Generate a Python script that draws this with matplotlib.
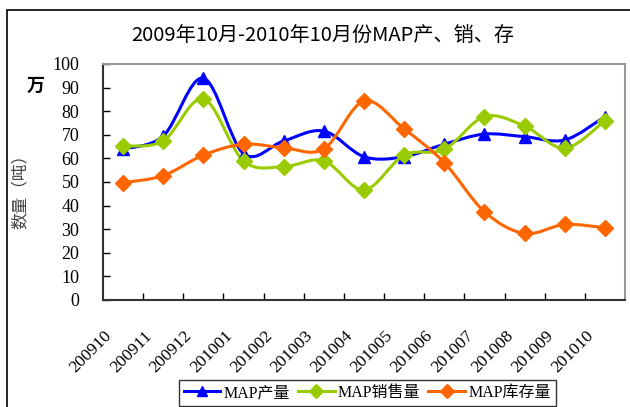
import matplotlib
matplotlib.use("Agg")
import matplotlib.pyplot as plt
from matplotlib.path import Path
from matplotlib.patches import PathPatch, Rectangle
from matplotlib.lines import Line2D
from matplotlib.transforms import ScaledTranslation

months = ["200910", "200911", "200912", "201001", "201002", "201003", "201004",
          "201005", "201006", "201007", "201008", "201009", "201010"]
production = [64, 69.5, 94, 62, 67.4, 71.6, 60.7, 60.7, 66, 70.3, 69.2, 67.8, 77.7]
sales = [65.3, 67.4, 85.2, 58.9, 56.5, 59, 46.6, 61.4, 63.8, 77.7, 73.7, 64.3, 76]
stock = [49.7, 52.7, 61.4, 66, 64.5, 64, 84.3, 72.5, 58.2, 37.4, 28.2, 32, 30.6]

serif = ["Liberation Serif", "Noto Sans CJK SC"]
cjk = ["Noto Sans CJK SC", "DejaVu Sans"]


def smooth_path(xs, ys):
    # excel-style smoothed line: cubic bezier through every point
    verts = [(xs[0], ys[0])]
    codes = [Path.MOVETO]
    n = len(xs)
    for i in range(n - 1):
        x0, y0 = (xs[i - 1], ys[i - 1]) if i > 0 else (xs[i], ys[i])
        x1, y1 = xs[i], ys[i]
        x2, y2 = xs[i + 1], ys[i + 1]
        x3, y3 = (xs[i + 2], ys[i + 2]) if i + 2 < n else (x2, y2)
        c1 = (x1 + (x2 - x0) / 6, y1 + (y2 - y0) / 6)
        c2 = (x2 - (x3 - x1) / 6, y2 - (y3 - y1) / 6)
        verts += [c1, c2, (x2, y2)]
        codes += [Path.CURVE4] * 3
    return Path(verts, codes)


fig = plt.figure(figsize=(6.3, 4.07), dpi=100)
ax = fig.add_axes([0.1635, 0.2629, 0.8285, 0.5799])

series = [
    ("MAP产量", production, "#0000FF", "^", 8),
    ("MAP销售量", sales, "#99CC00", "D", 8),
    ("MAP库存量", stock, "#FF6600", "D", 8),
]
x = list(range(len(months)))
handles = []
for name, vals, color, mk, ms in series:
    ax.add_patch(PathPatch(smooth_path(x, vals), facecolor="none",
                           edgecolor=color, lw=2.2, zorder=3))
    ax.plot(x, vals, ls="none", marker=mk, ms=ms, color=color, zorder=4)
    handles.append(Line2D([], [], color=color, lw=2.2, marker=mk, ms=ms - 1))

ax.set_xlim(-0.5, len(months) - 0.5)
ax.set_ylim(0, 100)
ax.set_yticks(range(0, 101, 10))
ax.set_xticks([i + 0.5 for i in range(len(months) - 1)], minor=False)
ax.set_xticklabels([])
ax.set_xticks(x, minor=True)
ax.set_xticklabels(months, minor=True, rotation=45, ha="right", va="top",
                   family=serif, fontsize=12.5)
ax.tick_params(axis="x", which="major", direction="in", length=5, width=1)
ax.tick_params(axis="x", which="minor", length=0, pad=20)
ax.tick_params(axis="y", direction="in", length=5, width=1, pad=17)
for lab in ax.get_yticklabels():
    lab.set_family(serif)
    lab.set_fontsize(13)
for lab in ax.get_xticklabels(minor=True):
    lab.set_transform(lab.get_transform() + ScaledTranslation(-0.08, 0, fig.dpi_scale_trans))

for s in ["top", "right"]:
    ax.spines[s].set_color("#999999")
    ax.spines[s].set_linewidth(1.5)
for s in ["left", "bottom"]:
    ax.spines[s].set_color("#333333")
    ax.spines[s].set_linewidth(1.5)

fig.text(0.513, 0.912, "2009年10月-2010年10月份MAP产、销、存", ha="center",
         va="center", family=cjk, fontsize=14.5)
fig.text(0.057, 0.791, "万", ha="center", va="center", family=cjk,
         fontsize=13, fontweight="bold")
fig.text(0.032, 0.54, "数量（吨）", ha="center", va="center", rotation=90,
         family=cjk, fontsize=12, color="#404040")

leg = fig.legend(handles, [s[0] for s in series], loc="upper center",
                 bbox_to_anchor=(0.583, 0.066), ncol=3, frameon=True,
                 fancybox=False, edgecolor="black", handlelength=2.3,
                 handletextpad=0.2, columnspacing=0.5, borderpad=0.3,
                 borderaxespad=0, prop={"family": serif, "size": 11.5})
leg.get_frame().set_linewidth(1)

fig.patches.append(Rectangle((0.011, -0.05), 1.0, 1.025, transform=fig.transFigure,
                             fill=False, edgecolor="black", lw=1.2))

fig.savefig("out.png", dpi=100)
